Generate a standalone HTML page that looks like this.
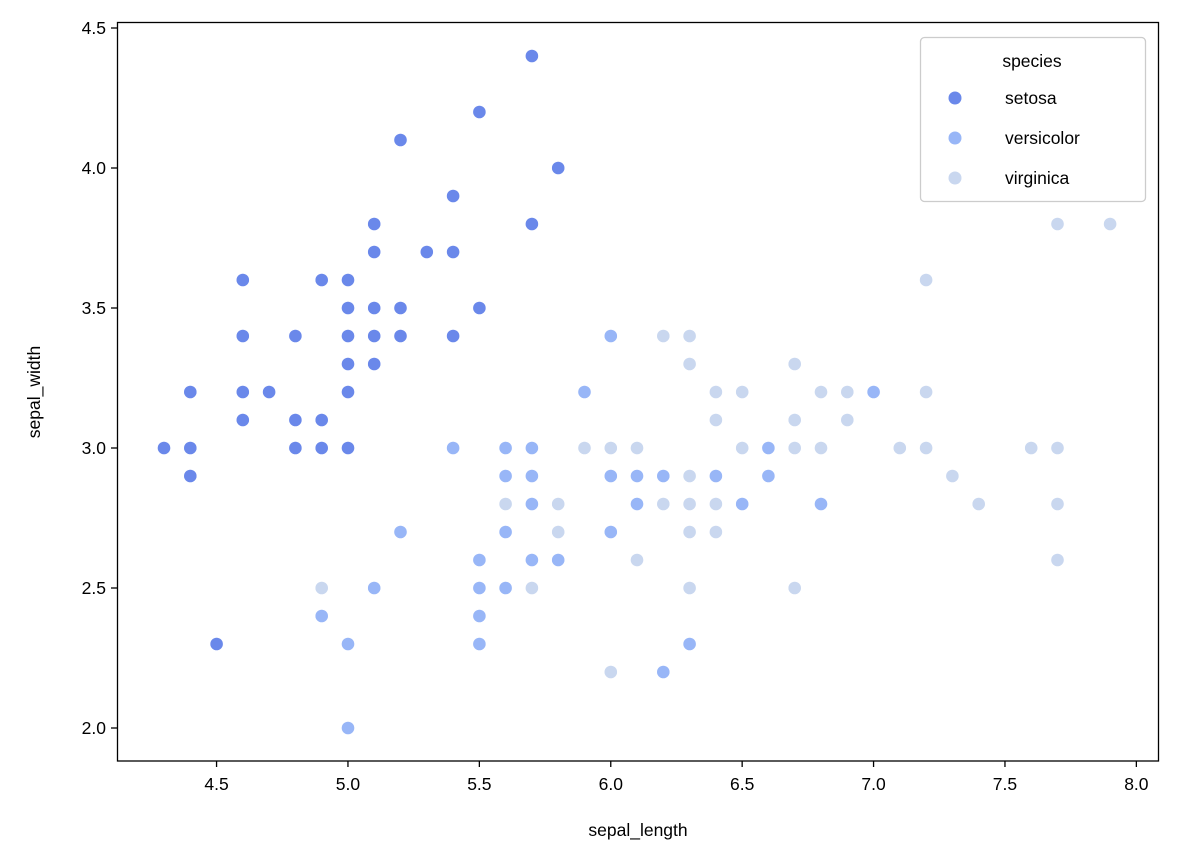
<!DOCTYPE html>
<html><head><meta charset="utf-8"><style>
body{margin:0;background:#fff}
svg{display:block;font-family:"Liberation Sans","DejaVu Sans",sans-serif}
</style></head><body>
<svg id="s" width="1177" height="863" viewBox="0 0 1177 863" xmlns="http://www.w3.org/2000/svg">
<rect x="0" y="0" width="1177" height="863" fill="#fff"/>
<g id="pts"></g>
<rect x="117.5" y="22.5" width="1041" height="738.5" fill="none" stroke="#000" stroke-width="1.3"/>
<g id="ax" font-size="17.5" fill="#000"></g>
<text x="638" y="836" font-size="17.5" text-anchor="middle">sepal_length</text>
<text transform="translate(40,392) rotate(-90)" font-size="17.5" text-anchor="middle">sepal_width</text>
<rect x="920.5" y="37.5" width="225" height="164" rx="4" fill="#fff" fill-opacity="0.8" stroke="#ccc" stroke-width="1.3"/>
<text x="1032" y="67" font-size="17.5" text-anchor="middle">species</text>
<circle cx="955" cy="98" r="6.5" fill="#6a88ea"/>
<circle cx="955" cy="138" r="6.5" fill="#98b6f7"/>
<circle cx="955" cy="178" r="6.5" fill="#c9d7ef"/>
<text x="1005" y="104" font-size="17.5">setosa</text>
<text x="1005" y="144" font-size="17.5">versicolor</text>
<text x="1005" y="184" font-size="17.5">virginica</text>
</svg>
<script>
var X=function(v){return 164+(v-4.3)*262.8},Y=function(v){return 728-(v-2)*280};
var S=[5.1,3.5,4.9,3.0,4.7,3.2,4.6,3.1,5.0,3.6,5.4,3.9,4.6,3.4,5.0,3.4,4.4,2.9,4.9,3.1,5.4,3.7,4.8,3.4,4.8,3.0,4.3,3.0,5.8,4.0,5.7,4.4,5.4,3.9,5.1,3.5,5.7,3.8,5.1,3.8,5.4,3.4,5.1,3.7,4.6,3.6,5.1,3.3,4.8,3.4,5.0,3.0,5.0,3.4,5.2,3.5,5.2,3.4,4.7,3.2,4.8,3.1,5.4,3.4,5.2,4.1,5.5,4.2,4.9,3.1,5.0,3.2,5.5,3.5,4.9,3.6,4.4,3.0,5.1,3.4,5.0,3.5,4.5,2.3,4.4,3.2,5.0,3.5,5.1,3.8,4.8,3.0,5.1,3.8,4.6,3.2,5.3,3.7,5.0,3.3];
var V=[7.0,3.2,6.4,3.2,6.9,3.1,5.5,2.3,6.5,2.8,5.7,2.8,6.3,3.3,4.9,2.4,6.6,2.9,5.2,2.7,5.0,2.0,5.9,3.0,6.0,2.2,6.1,2.9,5.6,2.9,6.7,3.1,5.6,3.0,5.8,2.7,6.2,2.2,5.6,2.5,5.9,3.2,6.1,2.8,6.3,2.5,6.1,2.8,6.4,2.9,6.6,3.0,6.8,2.8,6.7,3.0,6.0,2.9,5.7,2.6,5.5,2.4,5.5,2.4,5.8,2.7,6.0,2.7,5.4,3.0,6.0,3.4,6.7,3.1,6.3,2.3,5.6,3.0,5.5,2.5,5.5,2.6,6.1,3.0,5.8,2.6,5.0,2.3,5.6,2.7,5.7,3.0,5.7,2.9,6.2,2.9,5.1,2.5,5.7,2.8];
var G=[6.3,3.3,5.8,2.7,7.1,3.0,6.3,2.9,6.5,3.0,7.6,3.0,4.9,2.5,7.3,2.9,6.7,2.5,7.2,3.6,6.5,3.2,6.4,2.7,6.8,3.0,5.7,2.5,5.8,2.8,6.4,3.2,6.5,3.0,7.7,3.8,7.7,2.6,6.0,2.2,6.9,3.2,5.6,2.8,7.7,2.8,6.3,2.7,6.7,3.3,7.2,3.2,6.2,2.8,6.1,3.0,6.4,2.8,7.2,3.0,7.4,2.8,7.9,3.8,6.4,2.8,6.3,2.8,6.1,2.6,7.7,3.0,6.3,3.4,6.4,3.1,6.0,3.0,6.9,3.1,6.7,3.1,6.9,3.1,5.8,2.7,6.8,3.2,6.7,3.3,6.7,3.0,6.3,2.5,6.5,3.0,6.2,3.4,5.9,3.0];
var h='';
[[S,'#6a88ea'],[V,'#98b6f7'],[G,'#c9d7ef']].forEach(function(p){var d=p[0];for(var i=0;i<d.length;i+=2)h+='<circle cx="'+X(d[i]).toFixed(1)+'" cy="'+Y(d[i+1]).toFixed(1)+'" r="6.6" fill="'+p[1]+'" stroke="#fff" stroke-width="0.6"/>';});
document.getElementById('pts').innerHTML=h;
var a='';
for(var v=4.5;v<=8.01;v+=0.5){var x=X(v);a+='<line x1="'+x+'" y1="761" x2="'+x+'" y2="767" stroke="#000" stroke-width="1.3"/><text x="'+x+'" y="790" text-anchor="middle">'+v.toFixed(1)+'</text>';}
for(var v=2.0;v<=4.51;v+=0.5){var y=Y(v);a+='<line x1="111" y1="'+y+'" x2="117.5" y2="'+y+'" stroke="#000" stroke-width="1.3"/><text x="106" y="'+(y+6)+'" text-anchor="end">'+v.toFixed(1)+'</text>';}
document.getElementById('ax').innerHTML=a;
</script>
</body></html>
